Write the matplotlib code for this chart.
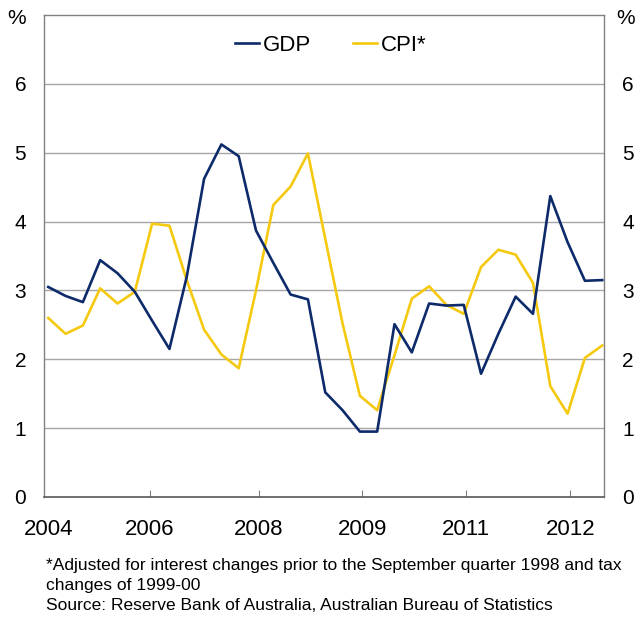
import numpy as np
import matplotlib.pyplot as plt

plt.rcParams['font.family'] = ['Liberation Sans', 'DejaVu Sans']

# quarterly year-ended growth, %
gdp = [3.05, 2.92, 2.83, 3.44, 3.25, 2.98, 2.56, 2.15, 3.2, 4.62, 5.12, 4.95,
       3.87, 3.4, 2.94, 2.87, 1.52, 1.26, 0.95, 0.95, 2.51, 2.10, 2.81, 2.78,
       2.79, 1.79, 2.37, 2.91, 2.66, 4.37, 3.7, 3.14, 3.15]
cpi = [2.60, 2.37, 2.49, 3.03, 2.81, 2.98, 3.97, 3.94, 3.15, 2.43, 2.07, 1.87,
       3.0, 4.24, 4.51, 4.99, 3.75, 2.52, 1.47, 1.26, 2.06, 2.88, 3.06, 2.79,
       2.66, 3.34, 3.59, 3.52, 3.11, 1.61, 1.21, 2.02, 2.2]
year_labels = ["2004", "2006", "2008", "2009", "2011", "2012"]
year_ticks = [0, 5.85, 12.15, 18.15, 24.15, 30.15]
y_ticks = [0, 1, 2, 3, 4, 5, 6]

gdp_color = "#0d2a6a"
cpi_color = "#f5c90f"
spine_color = "#808080"

fig = plt.figure()
fig.set_size_inches(6.39, 6.2)
ax = fig.add_axes([0.0693, 0.1984, 0.8764, 0.7774])

x = np.arange(len(gdp))
ax.plot(x, gdp, color=gdp_color, lw=1.9, label="GDP", zorder=3)
ax.plot(x, cpi, color=cpi_color, lw=1.9, label="CPI*", zorder=2)

ax.set_xlim(-0.23, 32.12)
ax.set_ylim(0, 7)
ax.set_yticks(y_ticks)
ax.yaxis.grid(True, color="#a6a6a6", lw=1.0)
ax.set_axisbelow(True)
ax.tick_params(axis="y", length=0, labelsize=15, pad=13,
               labelleft=True, labelright=True)

ax.set_xticks(year_ticks[1:])
ax.tick_params(axis="x", direction="in", length=5, width=0.8,
               color=spine_color, labelbottom=False)
for pos, lab in zip(year_ticks, year_labels):
    ax.text(pos, -0.32, lab, ha="center", va="top", fontsize=16,
            clip_on=False)

for side in ["left", "right", "top"]:
    ax.spines[side].set_color(spine_color)
    ax.spines[side].set_linewidth(1.0)
ax.spines["bottom"].set_color("#595959")
ax.spines["bottom"].set_linewidth(1.2)

ax.legend(loc="center", bbox_to_anchor=(0.512, 0.937), ncol=2, frameon=False,
          fontsize=16, handlelength=1.05, handletextpad=0.2, columnspacing=1.9)

fig.text(17 / 639, 1 - 18 / 620, "%", ha="center", va="center", fontsize=15)
fig.text(626 / 639, 1 - 18 / 620, "%", ha="center", va="center", fontsize=15)

fig.text(46 / 639, 1 - 558 / 620,
         "*Adjusted for interest changes prior to the September quarter 1998 and tax\n"
         "changes of 1999-00\n"
         "Source: Reserve Bank of Australia, Australian Bureau of Statistics",
         ha="left", va="top", fontsize=12.5, linespacing=1.4)

plt.savefig("out.png", dpi=100)
